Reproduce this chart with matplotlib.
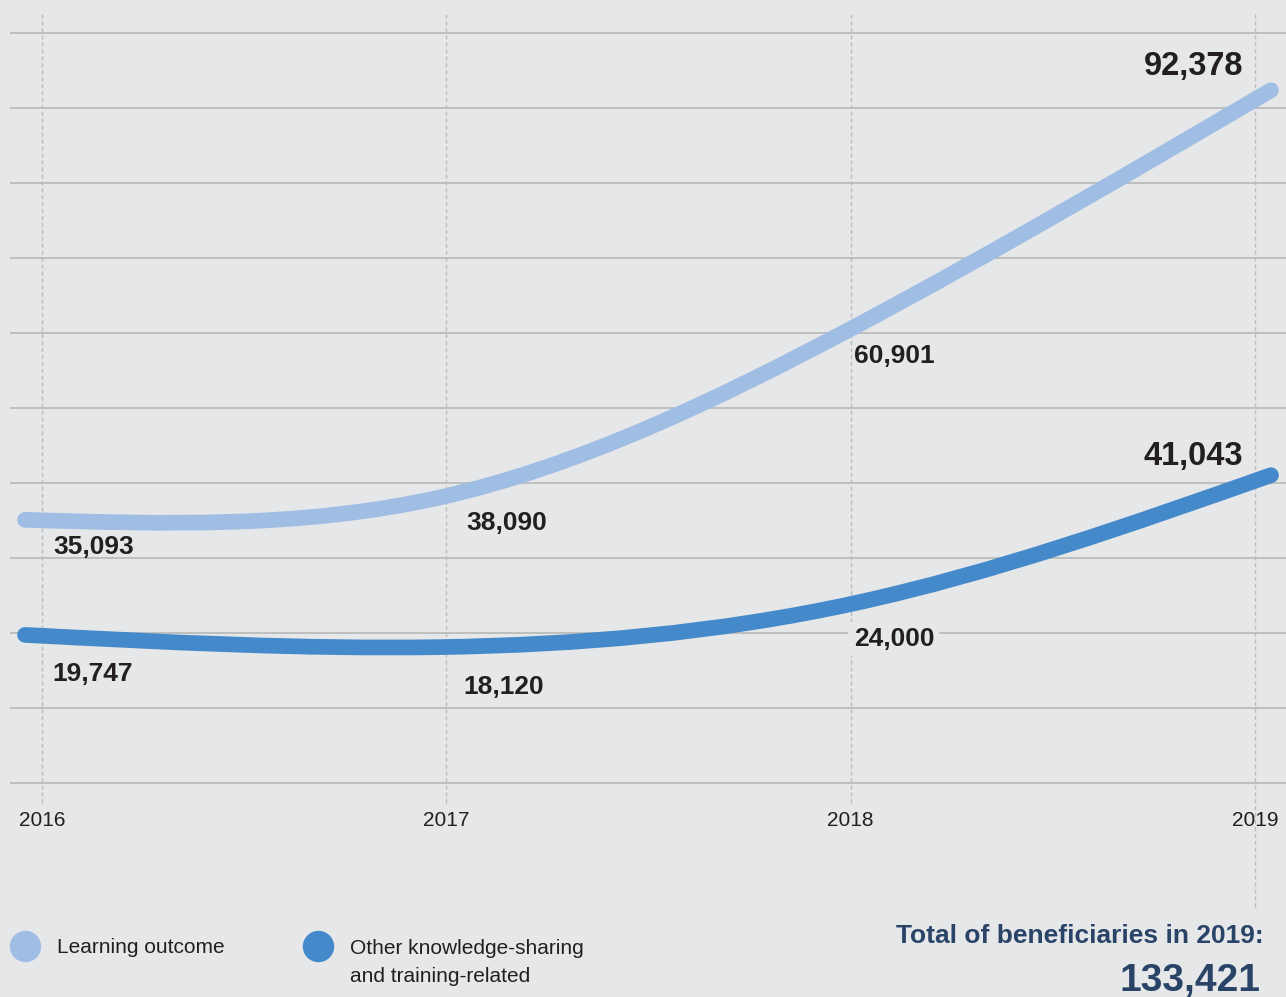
import numpy as np
import matplotlib
matplotlib.use('Agg')
import matplotlib.pyplot as plt
from matplotlib.path import Path
from matplotlib.patches import PathPatch
from matplotlib.lines import Line2D

# ---------------- data ----------------
years = [2016, 2017, 2018, 2019]
year_labels = ['2016', '2017', '2018', '2019']
learning = [35093, 38090, 60901, 92378]
other = [19747, 18120, 24000, 41043]
series_names = ['Learning outcome', 'Other knowledge-sharing\nand training-related']
total_title = 'Total of beneficiaries in 2019:'
total_value = 133421
grid_values = list(range(0, 100001, 10000))

# ---------------- style ----------------
plt.rcParams['font.family'] = ['Liberation Sans', 'DejaVu Sans']
W, H = 1286, 997
BG = '#e6e7e9'
LIGHT = '#a0bde4'
DARK = '#4489c9'
TEXT = '#231f20'
NAVY = '#2a4468'
GRID = '#b3b3b3'
VGRID = '#bdbdbd'

fig = plt.figure(figsize=(W / 100, H / 100), dpi=100)
fig.patch.set_facecolor(BG)

# value scale: 0 at y=783 px from top, 100000 at y=33 px
PX_PER_UNIT = 750 / 100000
Y0 = 783


def val_at(py):
    return (Y0 - py) / PX_PER_UNIT


def make_axes(x_first_px, x_last_px):
    ax = fig.add_axes([0, 0, 1, 1])
    span = (x_last_px - x_first_px) / (years[-1] - years[0])
    ax.set_xlim(years[0] - x_first_px / span, years[0] + (W - x_first_px) / span)
    ax.set_ylim(val_at(H), val_at(0))
    ax.axis('off')
    ax.patch.set_alpha(0)
    return ax


ax_grid = make_axes(42, 1255)
ax_line = make_axes(25, 1271)

# horizontal grid
ax_grid.hlines(grid_values, 10 / W, 1, transform=ax_grid.get_yaxis_transform(),
               colors=GRID, lw=1.1, zorder=1)
# vertical dashed lines
for i, yr in enumerate(years):
    bottom = val_at(907) if i == len(years) - 1 else val_at(803)
    ax_grid.plot([yr, yr], [bottom, val_at(12)], color=VGRID, lw=1.0,
                 linestyle=(0, (3, 2)), zorder=1, clip_on=False)
    ax_grid.text(yr, val_at(826), year_labels[i], ha='center', va='baseline',
                 fontsize=15, color=TEXT)


def natural_bezier(xs, ys):
    xs = np.asarray(xs, float)
    ys = np.asarray(ys, float)
    n = len(xs)
    h = np.diff(xs)
    A = np.zeros((n, n))
    r = np.zeros(n)
    A[0, 0] = 1
    A[-1, -1] = 1
    for i in range(1, n - 1):
        A[i, i - 1] = h[i - 1]
        A[i, i] = 2 * (h[i - 1] + h[i])
        A[i, i + 1] = h[i]
        r[i] = 6 * ((ys[i + 1] - ys[i]) / h[i] - (ys[i] - ys[i - 1]) / h[i - 1])
    M = np.linalg.solve(A, r)
    slopes = np.zeros(n)
    for i in range(n - 1):
        slopes[i] = (ys[i + 1] - ys[i]) / h[i] - h[i] * (2 * M[i] + M[i + 1]) / 6
    slopes[-1] = (ys[-1] - ys[-2]) / h[-1] + h[-1] * (M[-2] + 2 * M[-1]) / 6
    verts = [(xs[0], ys[0])]
    codes = [Path.MOVETO]
    for i in range(n - 1):
        d = h[i] / 3
        verts += [(xs[i] + d, ys[i] + slopes[i] * d),
                  (xs[i + 1] - d, ys[i + 1] - slopes[i + 1] * d),
                  (xs[i + 1], ys[i + 1])]
        codes += [Path.CURVE4] * 3
    return Path(verts, codes)


for vals, col in [(learning, LIGHT), (other, DARK)]:
    patch = PathPatch(natural_bezier(years, vals), fill=False, edgecolor=col,
                      lw=11.3, capstyle='round', joinstyle='round', zorder=3)
    ax_line.add_patch(patch)

# value labels (offsets in pixels from the data point)
label_offsets = {
    'learning': [(28, -34), (26, -33), (-2, -37), (-127, 15)],
    'other': [(27, -46), (23, -47), (-2, -43), (-127, 10)],
}
for key, vals in [('learning', learning), ('other', other)]:
    for i, (yr, v) in enumerate(zip(years, vals)):
        last = i == len(years) - 1
        kw = {}
        if key == 'other' and i == 2:
            kw['bbox'] = dict(boxstyle='square,pad=0.2', fc=BG, ec='none')
        ax_line.annotate(f'{v:,}', xy=(yr, v), xycoords='data',
                         xytext=label_offsets[key][i], textcoords='offset pixels',
                         ha='left', va='baseline', fontsize=23.5 if last else 19,
                         fontweight='bold', color=TEXT, zorder=4, **kw)

# legend
for (cx, tx), name, col in zip([(25, 57), (318, 350)], series_names, [LIGHT, DARK]):
    fig.add_artist(Line2D([cx / W], [1 - 946 / H], marker='o', markersize=21.6,
                          linestyle='none', color=col, transform=fig.transFigure))
    n_lines = name.count('\n')
    fig.text(tx / W, 1 - (953 + 29 * n_lines) / H, name, ha='left', va='baseline',
             fontsize=15, color=TEXT, linespacing=1.6)

fig.text(1264 / W, 1 - 943 / H, total_title, ha='right', va='baseline',
         fontsize=19, fontweight='bold', color=NAVY)
fig.text(1261 / W, 1 - 991 / H, f'{total_value:,}', ha='right', va='baseline',
         fontsize=28, fontweight='bold', color=NAVY)

fig.savefig('out.png', dpi=100, facecolor=BG)
